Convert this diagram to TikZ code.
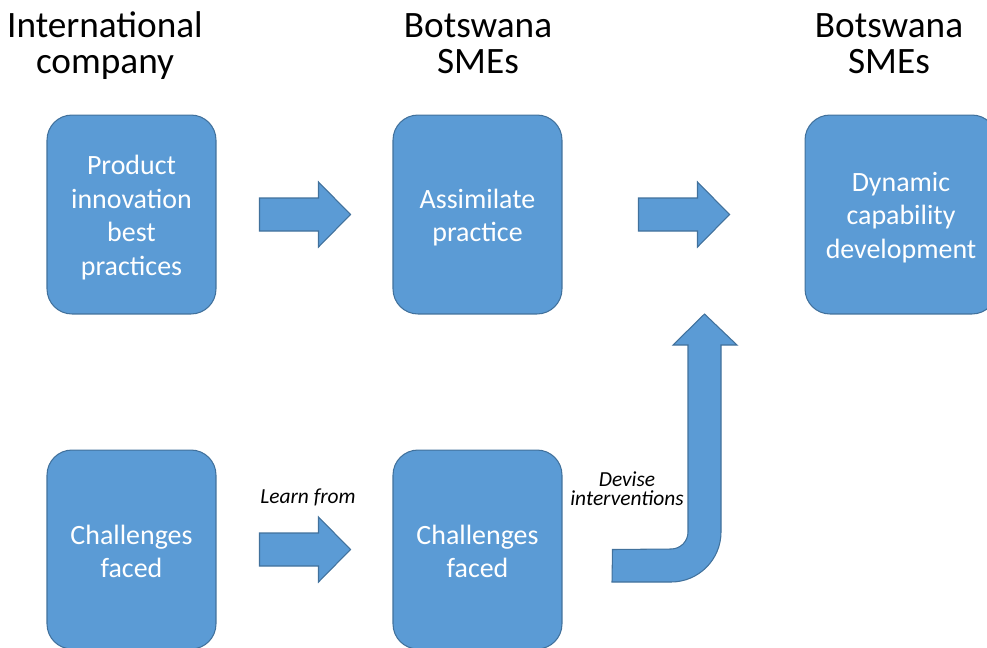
\documentclass[tikz,border=0pt]{standalone}
\usepackage{fontspec}
\setmainfont{Carlito}
\usepackage{tikz}
\usetikzlibrary{calc}
\definecolor{boxblue}{HTML}{5B9BD5}
\definecolor{boxedge}{HTML}{41719C}

\begin{document}
\begin{tikzpicture}[x=0.02cm,y=-0.02cm,
	box/.style={draw=boxedge,fill=boxblue,line width=0.6pt,rounded corners=0.5cm,
		minimum width=3.38cm,minimum height=3.98cm,inner sep=0pt},
	widebox/.style={box,minimum width=3.84cm},
	boxtext/.style={align=center,text=white,inner sep=0pt,font=\fontsize{15.9}{19.1}\selectfont},
	heading/.style={align=center,font=\fontsize{21.2}{20.5}\selectfont},
	note/.style={align=center,font=\itshape\fontsize{12.2}{11}\selectfont},
	blockarrow/.style={draw=boxedge,fill=boxblue,line width=0.6pt}]
	
	\useasboundingbox (0,0) rectangle (987,647);
	
	\node[heading] (intl) at (105,45.5) {International\\company};
	\node[heading] (sme) at (478,43.5) {Botswana\\SMEs};
	\node[heading] (smedyn) at (889,43.5) {Botswana\\SMEs};
	
	\node[box] (prod) at (131.5,214.5) {};
	\node[box] (assim) at (477.5,214.5) {};
	\node[widebox] (dyn) at (901,214.5) {};
	\node[box] (chall) at (131.5,549.5) {};
	\node[box] (smechall) at (477.5,549.5) {};
	
	\node[boxtext] (prodtext) at ($(prod)+(0,3)$) {Product\\innovation\\best\\practices};
	\node[boxtext] (assimtext) at ($(assim)+(0,3)$) {Assimilate\\practice};
	\node[boxtext] (dyntext) at ($(dyn)+(0,3)$) {Dynamic\\capability\\development};
	\node[boxtext] (challtext) at ($(chall)+(0,2)$) {Challenges\\faced};
	\node[boxtext] (smechalltext) at ($(smechall)+(0,2)$) {Challenges\\faced};
	
	% straight arrows
	\coordinate (a) at ($(prod.east)+(43,0)$);
	\coordinate (b) at ($(assim.east)+(76,0)$);
	\coordinate (c) at ($(chall.east)+(43,0)$);
	\foreach \p in {a,b,c}
		\draw[blockarrow] (\p) ++(0,-16.5) -- ++(59,0) -- ++(0,-16) -- ++(32,32.5)
			-- ++(-32,32.5) -- ++(0,-16) -- ++(-59,0) -- cycle;
	
	% bent arrow
	\coordinate (d) at ($(smechall.east)+(50,0)$);
	\draw[blockarrow] (d) -- (671,549) .. controls (680.4,549) and (688,541.4) .. (688,532)
		-- (688,345) -- (673,345) -- (704.5,314) -- (737,345) -- (721,345) -- (721,532)
		.. controls (721,559.6) and (698.6,582) .. (671,582) -- (612,582) -- cycle;
	
	\node[note] (learn) at (308,497) {Learn from};
	\node[note] (devise) at (627,489) {Devise\\interventions};
	
\end{tikzpicture}
\end{document}
